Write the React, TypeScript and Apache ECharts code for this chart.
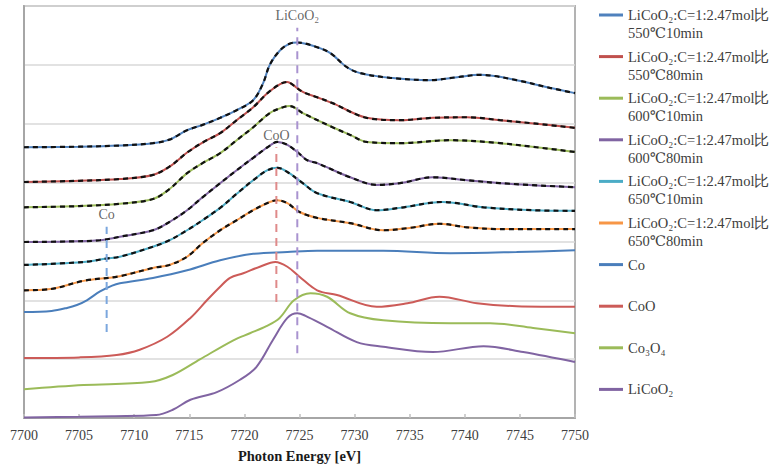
import React, { useEffect, useRef } from 'react';
import * as echarts from 'echarts';

type P = [number, number][];

const xMin = 7700;
const xMax = 7750;
const xStep = 5;
const yMin = 0;
const yMax = 7;

const s550_10: P = [[7700,4.60],[7705,4.61],[7708.7,4.63],[7711.7,4.67],[7713.2,4.73],[7714.8,4.89],[7716.2,4.98],[7717.8,5.10],[7719.3,5.23],[7720.8,5.40],[7721.7,5.69],[7722.3,6.00],[7723.2,6.24],[7724.1,6.36],[7724.8,6.38],[7726.6,6.30],[7727.8,6.20],[7729.3,5.96],[7730.5,5.86],[7733.2,5.78],[7736.8,5.74],[7739.3,5.79],[7741.4,5.83],[7744.7,5.74],[7747.7,5.61],[7750,5.52]];
const s550_80: P = [[7700,4.01],[7705,4.03],[7708.7,4.06],[7711.7,4.13],[7713.2,4.27],[7714.8,4.51],[7716.2,4.68],[7717.8,4.84],[7719.3,5.06],[7720.8,5.28],[7722.1,5.52],[7723.2,5.67],[7723.9,5.71],[7724.4,5.66],[7725.3,5.54],[7726.6,5.45],[7728,5.35],[7731.1,5.10],[7734.1,5.06],[7737.1,5.10],[7740.2,5.11],[7743.2,5.06],[7746.5,5.00],[7750,4.93]];
const s600_10: P = [[7700,3.58],[7705,3.60],[7708.7,3.64],[7711.7,3.72],[7713.2,3.89],[7714.8,4.16],[7716.2,4.33],[7717.8,4.50],[7719.3,4.72],[7720.8,4.94],[7722.3,5.18],[7723.5,5.28],[7724.1,5.30],[7725.3,5.18],[7728,4.94],[7729.6,4.81],[7731.1,4.69],[7734.1,4.67],[7738.7,4.72],[7743.2,4.67],[7746.5,4.60],[7750,4.52]];
const s600_80: P = [[7700,2.99],[7704,3.00],[7706.9,3.02],[7708.7,3.08],[7711.7,3.19],[7713.2,3.33],[7714.8,3.53],[7716.2,3.75],[7717.8,3.99],[7719.3,4.21],[7720.8,4.42],[7722.1,4.60],[7723,4.69],[7723.9,4.64],[7724.8,4.52],[7725.7,4.38],[7726.6,4.33],[7729.6,4.09],[7732,3.96],[7734.1,3.99],[7737.1,4.09],[7740.2,4.04],[7743.2,3.99],[7750,3.92]];
const s650_10: P = [[7700,2.60],[7705.4,2.65],[7707.5,2.71],[7708.7,2.74],[7711.7,2.91],[7713.2,3.02],[7714.8,3.19],[7716.2,3.36],[7717.8,3.57],[7719.3,3.81],[7720.8,4.04],[7722.1,4.21],[7723,4.25],[7723.9,4.18],[7725.3,3.99],[7726.6,3.82],[7729.6,3.67],[7732,3.53],[7734.1,3.57],[7738,3.67],[7741.7,3.58],[7746.2,3.53],[7750,3.52]];
const s650_80: P = [[7700,2.17],[7702.4,2.19],[7705.4,2.33],[7708.7,2.41],[7711.7,2.55],[7713.2,2.60],[7714.8,2.74],[7716.2,2.97],[7717.8,3.19],[7719.3,3.36],[7720.8,3.53],[7722.3,3.67],[7723,3.70],[7723.9,3.65],[7725,3.50],[7726.6,3.40],[7729.6,3.31],[7732.6,3.19],[7735,3.23],[7737.7,3.30],[7740.2,3.24],[7743.2,3.21],[7750,3.21]];
const refCo: P = [[7700,1.80],[7702.5,1.82],[7703.9,1.87],[7704.8,1.92],[7705.7,2.00],[7706.9,2.15],[7708,2.25],[7708.7,2.29],[7711.7,2.38],[7714.8,2.51],[7717.8,2.68],[7720.8,2.79],[7723.9,2.82],[7726.6,2.84],[7732.6,2.84],[7738.7,2.80],[7744.7,2.82],[7750,2.85]];
const refCoO: P = [[7700,1.02],[7705,1.03],[7708.4,1.07],[7710.5,1.16],[7713,1.38],[7715.1,1.70],[7716.6,2.00],[7717.8,2.23],[7718.7,2.38],[7719.9,2.46],[7721.4,2.57],[7722.8,2.65],[7723.9,2.57],[7725,2.40],[7726.6,2.17],[7728.4,2.09],[7732,1.89],[7734.8,1.95],[7737.7,2.06],[7741.1,1.95],[7744.7,1.90],[7750,1.89]];
const refCo3O4: P = [[7700,0.49],[7705.4,0.56],[7711.4,0.61],[7713.5,0.73],[7716,1.00],[7719,1.32],[7720.5,1.44],[7722,1.56],[7723.2,1.70],[7724.5,2.00],[7726,2.12],[7727.5,2.06],[7729.6,1.78],[7732.6,1.66],[7738.7,1.61],[7742.3,1.61],[7746.2,1.53],[7750,1.44]];
const refLiCoO2: P = [[7700,0.01],[7705,0.02],[7708,0.03],[7712,0.05],[7713.5,0.14],[7715.1,0.31],[7717.5,0.44],[7719.6,0.65],[7721.1,0.87],[7722.6,1.33],[7723.9,1.70],[7724.8,1.78],[7725.5,1.74],[7727.5,1.55],[7730.2,1.29],[7732.6,1.21],[7737.1,1.12],[7741.7,1.22],[7745.3,1.12],[7750,0.95]];

const seriesNames = [
  'LiCoO₂:C=1:2.47mol比 550℃10min',
  'LiCoO₂:C=1:2.47mol比 550℃80min',
  'LiCoO₂:C=1:2.47mol比 600℃10min',
  'LiCoO₂:C=1:2.47mol比 600℃80min',
  'LiCoO₂:C=1:2.47mol比 650℃10min',
  'LiCoO₂:C=1:2.47mol比 650℃80min',
  'Co',
  'CoO',
  'Co₃O₄',
  'LiCoO₂',
];
const seriesData = [s550_10, s550_80, s600_10, s600_80, s650_10, s650_80, refCo, refCoO, refCo3O4, refLiCoO2];
const seriesColors = ['#4F81BD', '#C0504D', '#9BBB59', '#8064A2', '#4BACC6', '#F79646', '#4A7EBB', '#CC5B58', '#9BBB59', '#8064A2'];
const hasFit = [true, true, true, true, true, true, false, false, false, false];

const markerNames = ['Co', 'CoO', 'LiCoO₂'];
const markerEnergy = [7707.5, 7722.9, 7724.8];
const markerBottom = [1.46, 1.97, 1.10];
const markerTop = [3.25, 4.60, 6.63];
const markerColors = ['#7BA7DE', '#DF8A8A', '#A993D0'];

const SERIF = "'Liberation Serif', 'Times New Roman', 'DejaVu Serif', serif";

export default function App() {
  const ref = useRef<HTMLDivElement>(null);
  useEffect(() => {
    document.body.style.margin = '0';
    if (!ref.current) return;
    const chart = echarts.init(ref.current, undefined, { renderer: 'svg' });

    const series: any[] = [];
    seriesData.forEach((d, i) => {
      series.push({
        type: 'line',
        name: seriesNames[i],
        data: d,
        color: seriesColors[i],
        symbol: 'none',
        smooth: 0.35,
        lineStyle: { width: 2, color: seriesColors[i] },
        z: 2,
      });
    });
    seriesData.forEach((d, i) => {
      if (!hasFit[i]) return;
      series.push({
        type: 'line',
        name: 'fit' + i,
        data: d,
        symbol: 'none',
        smooth: 0.35,
        lineStyle: { width: 2.2, color: '#111', type: [5, 4] },
        z: 3,
      });
    });
    markerNames.forEach((n, i) => {
      series.push({
        type: 'line',
        name: 'mark' + i,
        data: [[markerEnergy[i], markerBottom[i]], [markerEnergy[i], markerTop[i]]],
        symbol: 'none',
        lineStyle: { width: 2, color: markerColors[i], type: [8, 6] },
        z: 4,
      });
      series.push({
        type: 'scatter',
        name: 'label' + i,
        data: [[markerEnergy[i], markerTop[i]]],
        symbolSize: 0.5,
        itemStyle: { color: 'rgba(0,0,0,0)' },
        label: {
          show: true,
          position: 'top',
          distance: 5,
          formatter: n,
          fontFamily: SERIF,
          fontSize: 14,
          color: '#404040',
        },
        z: 5,
      });
    });

    chart.setOption({
      animation: false,
      backgroundColor: '#fff',
      grid: {
        left: 24,
        right: 205,
        top: 6,
        bottom: 47,
        show: true,
        borderColor: '#b3b3b3',
        borderWidth: 2,
        outerBoundsMode: 'none',
        containLabel: false,
      },
      legend: {
        orient: 'vertical',
        left: 599,
        top: -12,
        padding: 0,
        itemGap: -12.4,
        itemWidth: 24,
        itemHeight: 3,
        icon: 'rect',
        selectedMode: false,
        data: seriesNames,
        formatter: (name: string) => {
          const k = name.indexOf(' ');
          return k < 0 ? ' \n' + name + '\n ' : ' \n' + name.slice(0, k) + '\n' + name.slice(k + 1);
        },
        textStyle: { fontFamily: SERIF, fontSize: 14.5, lineHeight: 18, color: '#404040' },
      },
      xAxis: {
        type: 'value',
        min: xMin,
        max: xMax,
        interval: xStep,
        name: 'Photon Energy [eV]',
        nameLocation: 'middle',
        nameGap: 30,
        nameTextStyle: { fontFamily: SERIF, fontSize: 14.5, fontWeight: 'bold', color: '#1a1a1a' },
        axisLine: { show: true, lineStyle: { color: '#a6a6a6', width: 2 } },
        axisTick: { show: true, inside: true, length: 4, lineStyle: { color: '#c0c0c0', width: 1.5 } },
        axisLabel: { fontFamily: SERIF, fontSize: 14, color: '#404040', margin: 10, formatter: (v: number) => String(v) },
        splitLine: { show: false },
      },
      yAxis: {
        type: 'value',
        min: yMin,
        max: yMax,
        interval: 1,
        axisLine: { show: true, lineStyle: { color: '#a6a6a6', width: 2 } },
        axisTick: { show: false },
        axisLabel: { show: false },
        splitLine: { show: true, lineStyle: { color: '#d9d9d9', width: 1.5 } },
      },
      series,
    });
    return () => chart.dispose();
  }, []);
  return <div ref={ref} style={{ width: 780, height: 465 }} />;
}
